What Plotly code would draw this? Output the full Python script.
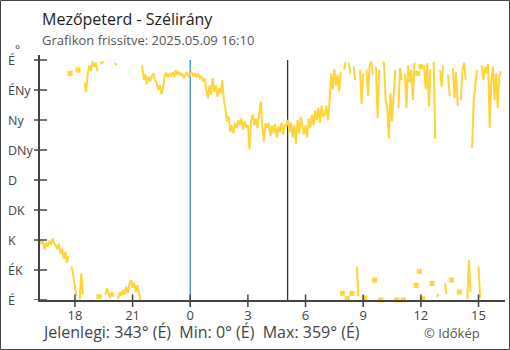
import pandas as pd
import plotly.graph_objects as go

# ---------------- texts ----------------
TITLE = "Mezőpeterd - Szélirány"
SUBTITLE = "Grafikon frissítve: 2025.05.09 16:10"
FOOTER = "Jelenlegi: 343° (É)  Min: 0° (É)  Max: 359° (É)"
CREDIT = "© Időkép"

# ---------------- data (5-minute readings, degrees) ----------------
start_time = "2025-05-08 16:10"
step = "5min"
wind_dir_deg = [
    91, 84, 88, 76, 86, 80, 89, 83, 92, 85,                      # 16:10-16:55
    82, 76, 84, 70, 77, 62, 72, 56, 66, 340, 50, 36,             # 17
    20, 6, 345, 1, 40, 8, 326, 312, 340, 352, 343, 358,          # 18
    350, 356, 343, 5, 357, 355, 358, 8, 18, 10, 3, 12,           # 19
    5, 356, 352, 2, 12, 6, 15, 8, 20, 10, 24, 30,                # 20
    18, 26, 12, 22, 10, 0, 352, 330, 338, 324, 335, 328,         # 21
    336, 340, 330, 326, 315, 322, 309, 318, 336, 341, 334, 339,  # 22
    336, 342, 334, 345, 338, 343, 336, 340, 333, 338, 342, 336,  # 23
    338, 342, 335, 340, 334, 339, 333, 336, 328, 332, 318, 303,  # 0
    322, 308, 333, 312, 322, 305, 318, 310, 330, 300, 286, 268,  # 1
    275, 252, 262, 250, 266, 258, 270, 262, 272, 256, 268, 260,  # 2
    262, 226, 270, 278, 262, 272, 258, 276, 298, 262, 238, 265,  # 3
    258, 266, 246, 262, 250, 264, 244, 260, 252, 266, 248, 262,  # 4
    262, 270, 252, 266, 244, 262, 234, 270, 250, 275, 258, 248,  # 5
    262, 244, 272, 258, 278, 262, 284, 270, 288, 266, 292, 275,  # 6
    278, 292, 270, 298, 340, 316, 346, 322, 338, 313, 342, 10,   # 7
    345, 357, 2, 356, 340, 10, 350, 330, 50, 5, 345, 294,        # 8
    340, 3, 346, 306, 352, 358, 338, 30, 350, 273, 345, 0,       # 9
    357, 355, 300, 290, 242, 310, 268, 305, 345, 0, 288, 348,    # 10
    330, 0, 340, 288, 352, 326, 345, 300, 356, 22, 340, 43,      # 11
    350, 2, 352, 316, 355, 290, 346, 25, 357, 242, 5, 9,         # 12
    345, 320, 352, 25, 9, 338, 306, 30, 348, 303, 342, 291,      # 13
    12, 300, 345, 356, 330, 2, 60, 12, 228, 300, 320, 345,       # 14
    50, 3, 352, 330, 350, 340, 354, 258, 330, 350, 300, 340,     # 15
    288, 335, 343,                                               # 16:00-16:10
]

y_tick_vals = [0, 45, 90, 135, 180, 225, 270, 315, 360]
y_tick_text = ["É", "ÉK", "K", "DK", "D", "DNy", "Ny", "ÉNy", "É"]
x_tick_times = ["2025-05-08 18:00", "2025-05-08 21:00", "2025-05-09 00:00",
                "2025-05-09 03:00", "2025-05-09 06:00", "2025-05-09 09:00",
                "2025-05-09 12:00", "2025-05-09 15:00"]
x_tick_text = ["18", "21", "0", "3", "6", "9", "12", "15"]
midnight = "2025-05-09 00:00"
sunrise = "2025-05-09 05:04"
x_range = ["2025-05-08 16:11", "2025-05-09 16:22:40"]
y_range = [0, 367.5]

LINE_COLOR = "#fdd43a"
AXIS_COLOR = "#444444"

# ---------------- geometry ----------------
W, H = 510, 350
ML, MR, MT, MB = 40, 5, 55, 50
PW, PH = W - ML - MR, H - MT - MB

times = pd.date_range(start_time, periods=len(wind_dir_deg), freq=step)

# break the line where the direction wraps around north
xs, ys = [], []
n = len(wind_dir_deg)
for i, (t, v) in enumerate(zip(times, wind_dir_deg)):
    if i > 0 and abs(v - wind_dir_deg[i - 1]) > 180:
        xs.append(None)
        ys.append(None)
    xs.append(t)
    ys.append(v)

iso_x, iso_y = [], []
for i, v in enumerate(wind_dir_deg):
    left = i > 0 and abs(v - wind_dir_deg[i - 1]) <= 180
    right = i < n - 1 and abs(v - wind_dir_deg[i + 1]) <= 180
    if not left and not right:
        iso_x.append(times[i])
        iso_y.append(v)

fig = go.Figure()
fig.add_trace(go.Scatter(x=xs, y=ys, mode="lines",
                         line=dict(color=LINE_COLOR, width=2),
                         connectgaps=False, hoverinfo="skip"))
fig.add_trace(go.Scatter(x=iso_x, y=iso_y, mode="markers",
                         marker=dict(symbol="square", size=5, color=LINE_COLOR),
                         cliponaxis=False, hoverinfo="skip"))

shapes = []
# midnight and sunrise markers
shapes.append(dict(type="line", xref="x", yref="paper", x0=midnight, x1=midnight,
                   y0=-6.5 / PH, y1=360 / y_range[1],
                   line=dict(color="#3a8fd0", width=1.3), layer="below"))
shapes.append(dict(type="line", xref="x", yref="paper", x0=sunrise, x1=sunrise,
                   y0=0, y1=360 / y_range[1],
                   line=dict(color="#333333", width=1.3), layer="below"))
# crossing ticks
for t in x_tick_times:
    shapes.append(dict(type="line", xref="x", yref="paper", x0=t, x1=t,
                       y0=-7 / PH, y1=5.5 / PH, line=dict(color=AXIS_COLOR, width=1.5)))
for v in y_tick_vals:
    shapes.append(dict(type="line", xref="paper", yref="y", x0=-6 / PW, x1=7 / PW,
                       y0=v, y1=v, line=dict(color=AXIS_COLOR, width=1.5)))
# figure border
shapes.append(dict(type="rect", xref="paper", yref="paper",
                   x0=(0.5 - ML) / PW, x1=(W - 0.5 - ML) / PW,
                   y0=-(MB - 0.5) / PH, y1=(PH + MT - 0.5) / PH,
                   line=dict(color="#444444", width=1)))

annotations = []
for v, lab in zip(y_tick_vals, y_tick_text):
    annotations.append(dict(text=lab, xref="paper", yref="y", x=(6 - ML) / PW, y=v,
                            xanchor="left", yanchor="middle", showarrow=False,
                            font=dict(size=12.5, color="#444444")))
annotations.append(dict(text="°", xref="paper", yref="paper", x=(13 - ML) / PW,
                        y=(H - MB - 50) / PH, xanchor="left", yanchor="middle",
                        showarrow=False, font=dict(size=12, color="#444444")))
annotations.append(dict(text=TITLE, xref="paper", yref="paper", x=0,
                        y=(H - MB - 19) / PH, xanchor="left", yanchor="middle",
                        showarrow=False, font=dict(size=16, color="#222222")))
annotations.append(dict(text=SUBTITLE, xref="paper", yref="paper", x=0,
                        y=(H - MB - 40) / PH, xanchor="left", yanchor="middle",
                        showarrow=False, font=dict(size=13, color="#555555")))
annotations.append(dict(text=FOOTER.replace("  ", "\u00a0\u00a0"), xref="paper", yref="paper",
                        x=0, y=-(332 - (H - MB)) / PH, xanchor="left", yanchor="middle",
                        showarrow=False, font=dict(size=16, color="#444444")))
annotations.append(dict(text=CREDIT, xref="paper", yref="paper", x=(482 - ML) / PW,
                        y=-(333 - (H - MB)) / PH, xanchor="right", yanchor="middle",
                        showarrow=False, font=dict(size=13, color="#555555")))

fig.update_layout(
    width=W, height=H,
    margin=dict(l=ML, r=MR, t=MT, b=MB, pad=0),
    paper_bgcolor="white", plot_bgcolor="white",
    showlegend=False,
    font=dict(family="Open Sans, Noto Sans, sans-serif", color="#444444"),
    shapes=shapes, annotations=annotations,
    xaxis=dict(type="date", range=x_range, tickvals=x_tick_times, ticktext=x_tick_text,
               ticks="", showline=True, linecolor=AXIS_COLOR, linewidth=2,
               showgrid=False, zeroline=False, ticklabelstandoff=2,
               tickfont=dict(size=13, color="#444444")),
    yaxis=dict(range=y_range, tickvals=y_tick_vals, showticklabels=False,
               ticks="", showline=True, linecolor=AXIS_COLOR, linewidth=2,
               showgrid=False, zeroline=False),
)

fig.write_html("out.html")
